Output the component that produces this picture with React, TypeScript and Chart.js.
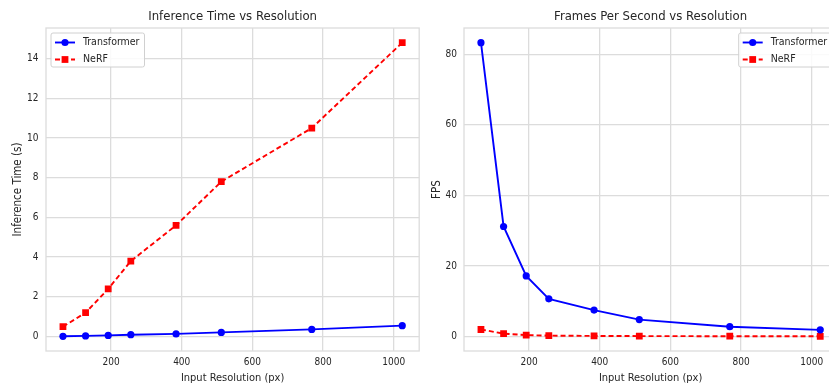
import React, { useEffect, useRef } from 'react';
import { Chart, registerables } from 'chart.js';

Chart.register(...registerables);

// ---- data ----
const resolutions = [64, 128, 192, 256, 384, 512, 768, 1024];
const transformerTime = [0.012, 0.032, 0.058, 0.094, 0.135, 0.21, 0.36, 0.55];
const nerfTime = [0.5, 1.2, 2.4, 3.8, 5.6, 7.8, 10.5, 14.8];
const transformerFps = [83.3, 31.2, 17.2, 10.7, 7.5, 4.8, 2.8, 1.9];
const nerfFps = [2.0, 0.83, 0.42, 0.26, 0.18, 0.13, 0.095, 0.068];
const seriesNames = ['Transformer', 'NeRF'];
const xTickValues = [200, 400, 600, 800, 1000];
const timeTickValues = [0, 2, 4, 6, 8, 10, 12, 14];
const fpsTickValues = [0, 20, 40, 60, 80];

// ---- style ----
const FONT = "'DejaVu Sans Condensed', 'Liberation Sans', sans-serif";
const TEXT = '#262626';
const GRID = '#dcdcdc';
const BLUE = '#0000ff';
const RED = '#ff0000';

function padRange(values: number[]) {
  const mn = Math.min(...values);
  const mx = Math.max(...values);
  const m = (mx - mn) * 0.05;
  return { min: mn - m, max: mx + m };
}

const frameAndLegend = {
  id: 'frameAndLegend',
  afterLayout(chart: any) {
    const tb = chart.titleBlock;
    if (tb) {
      tb.left = chart.chartArea.left;
      tb.right = chart.chartArea.right;
      tb.width = tb.right - tb.left;
    }
  },
  beforeDatasetsDraw(chart: any) {
    const { ctx, chartArea } = chart;
    ctx.save();
    ctx.strokeStyle = GRID;
    ctx.lineWidth = 1.3;
    ctx.strokeRect(chartArea.left, chartArea.top, chartArea.right - chartArea.left, chartArea.bottom - chartArea.top);
    ctx.restore();
  },
  afterDatasetsDraw(chart: any, _args: any, opts: any) {
    const { ctx, chartArea } = chart;
    const fs = 10.5;
    ctx.save();
    ctx.font = `${fs}px ${FONT}`;
    const ds = chart.data.datasets;
    const textW = Math.max(...ds.map((d: any) => ctx.measureText(d.label).width));
    const pad = 4, handle = 20, gap = 8;
    const w = pad + handle + gap + textW + pad + 1;
    const h = 34;
    const x0 = opts.align === 'right' ? chartArea.right - 5 - w : chartArea.left + 5;
    const y0 = chartArea.top + 5;
    ctx.beginPath();
    (ctx as any).roundRect(x0, y0, w, h, 2);
    ctx.fillStyle = 'rgba(255,255,255,0.85)';
    ctx.fill();
    ctx.strokeStyle = '#d0d0d0';
    ctx.lineWidth = 1;
    ctx.stroke();
    ds.forEach((d: any, i: number) => {
      const cy = y0 + 9.5 + i * 17;
      const hx0 = x0 + pad, hx1 = x0 + pad + handle;
      ctx.beginPath();
      ctx.setLineDash(d.borderDash || []);
      ctx.strokeStyle = d.borderColor;
      ctx.lineWidth = d.borderWidth;
      ctx.moveTo(hx0, cy);
      ctx.lineTo(hx1, cy);
      ctx.stroke();
      ctx.setLineDash([]);
      const cx = (hx0 + hx1) / 2;
      ctx.fillStyle = d.pointBackgroundColor;
      ctx.beginPath();
      if (d.pointStyle === 'rect') {
        const s = d.pointRadius * Math.SQRT1_2;
        ctx.rect(cx - s, cy - s, 2 * s, 2 * s);
      } else {
        ctx.arc(cx, cy, d.pointRadius, 0, Math.PI * 2);
      }
      ctx.fill();
      ctx.fillStyle = TEXT;
      ctx.textBaseline = 'middle';
      ctx.textAlign = 'left';
      ctx.fillText(d.label, hx1 + gap, cy);
    });
    ctx.restore();
  },
};

function makeConfig(opts: {
  title: string;
  yTitle: string;
  series: number[][];
  yTicks: number[];
  yAxisWidth: number;
  yTitlePad: number;
  yTickPad: number;
  legendAlign: 'left' | 'right';
}): any {
  const xr = padRange(resolutions);
  const yr = padRange(opts.series.flat());
  const styles = [
    { color: BLUE, dash: [], style: 'circle', radius: 3.6 },
    { color: RED, dash: [5, 3], style: 'rect', radius: 4.8 },
  ];
  return {
    type: 'line',
    data: {
      datasets: opts.series.map((vals, i) => ({
        label: seriesNames[i],
        data: resolutions.map((r, k) => ({ x: r, y: vals[k] })),
        borderColor: styles[i].color,
        backgroundColor: styles[i].color,
        pointBackgroundColor: styles[i].color,
        pointBorderColor: styles[i].color,
        pointBorderWidth: 0,
        pointStyle: styles[i].style,
        pointRadius: styles[i].radius,
        borderWidth: 1.9,
        borderDash: styles[i].dash,
        tension: 0,
        fill: false,
      })),
    },
    options: {
      responsive: false,
      animation: false,
      devicePixelRatio: 1,
      layout: { padding: { left: 0, right: 2, top: 0, bottom: 0 } },
      plugins: {
        legend: { display: false },
        tooltip: { enabled: false },
        title: {
          display: true,
          text: opts.title,
          color: TEXT,
          font: { family: FONT, size: 13, weight: 'normal', lineHeight: 1.2 },
          padding: { top: 9, bottom: 3.4 },
        },
        frameAndLegend: { align: opts.legendAlign },
      },
      scales: {
        x: {
          type: 'linear',
          min: xr.min,
          max: xr.max,
          afterBuildTicks: (s: any) => {
            s.ticks = xTickValues.map((v) => ({ value: v }));
          },
          afterFit: (s: any) => {
            s.height = 34;
          },
          ticks: {
            color: TEXT,
            font: { family: FONT, size: 10 },
            padding: 5,
            maxRotation: 0,
            callback: (v: any) => String(v),
          },
          grid: { color: GRID, lineWidth: 1.3, drawTicks: false },
          border: { display: false },
          title: {
            display: true,
            text: 'Input Resolution (px)',
            color: TEXT,
            font: { family: FONT, size: 11 },
            padding: { top: 0, bottom: 0 },
          },
        },
        y: {
          type: 'linear',
          min: yr.min,
          max: yr.max,
          afterBuildTicks: (s: any) => {
            s.ticks = opts.yTicks.map((v) => ({ value: v }));
          },
          afterFit: (s: any) => {
            s.width = opts.yAxisWidth;
          },
          ticks: {
            color: TEXT,
            font: { family: FONT, size: 10 },
            padding: opts.yTickPad,
            callback: (v: any) => String(v),
          },
          grid: { color: GRID, lineWidth: 1.3, drawTicks: false },
          border: { display: false },
          title: {
            display: true,
            text: opts.yTitle,
            color: TEXT,
            font: { family: FONT, size: 11.5 },
            padding: { top: opts.yTitlePad, bottom: 0 },
          },
        },
      },
    },
    plugins: [frameAndLegend],
  };
}

function ChartCanvas({ config, width, height, left }: { config: any; width: number; height: number; left: number }) {
  const ref = useRef<HTMLCanvasElement | null>(null);
  useEffect(() => {
    if (!ref.current) return;
    const chart = new Chart(ref.current, config);
    return () => chart.destroy();
  }, [config]);
  return (
    <canvas
      ref={ref}
      width={width}
      height={height}
      style={{ position: 'absolute', left, top: 0, width, height }}
    />
  );
}

const leftConfig = makeConfig({
  title: 'Inference Time vs Resolution',
  yTitle: 'Inference Time (s)',
  series: [transformerTime, nerfTime],
  yTicks: timeTickValues,
  yAxisWidth: 46,
  yTitlePad: 11,
  yTickPad: 7.5,
  legendAlign: 'left',
});

const rightConfig = makeConfig({
  title: 'Frames Per Second vs Resolution',
  yTitle: 'FPS',
  series: [transformerFps, nerfFps],
  yTicks: fpsTickValues,
  yAxisWidth: 42,
  yTitlePad: 8.5,
  yTickPad: 7,
  legendAlign: 'right',
});

export default function App() {
  return (
    <div
      style={{
        position: 'absolute',
        left: 0,
        top: 0,
        width: 829,
        height: 385,
        overflow: 'hidden',
        background: '#ffffff',
      }}
    >
      <ChartCanvas config={leftConfig} width={424} height={385} left={0} />
      <ChartCanvas config={rightConfig} width={420} height={385} left={422} />
    </div>
  );
}
